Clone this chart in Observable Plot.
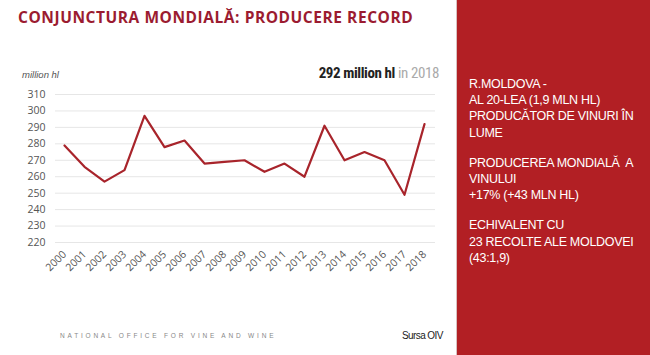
<!DOCTYPE html>
<html>
<head>
<meta charset="utf-8">
<script src="https://cdn.jsdelivr.net/npm/d3@7"></script>
<script src="https://cdn.jsdelivr.net/npm/@observablehq/plot@0.6"></script>
<style>
  html, body { margin: 0; padding: 0; background: #fff; }
  #page { position: relative; width: 650px; height: 355px; overflow: hidden; background: #fff; font-family: "Liberation Sans", Arial, sans-serif; }
  #title { position: absolute; left: 18px; top: 6px; font-family: "Open Sans", sans-serif; font-weight: 700; font-size: 15.5px; letter-spacing: 0.55px; color: #9b1b30; white-space: nowrap; }
  #chart { position: absolute; left: 0; top: 60px; }
  #unit { position: absolute; left: 22px; top: 69px; font-size: 9.5px; font-style: italic; color: #555; }
  #headline { position: absolute; right: 211px; top: 64px; font-family: "Liberation Sans Narrow", "Roboto Condensed", sans-serif; font-size: 15px; white-space: nowrap; color: #222; letter-spacing: -0.4px; }
  #headline b { font-weight: 700; }
  #headline span { color: #aaa; }
  #footer { position: absolute; left: 60px; top: 332px; font-size: 6.5px; letter-spacing: 2.8px; color: #888; white-space: nowrap; }
  #source { position: absolute; left: 402px; top: 330px; font-size: 10px; letter-spacing: -0.6px; color: #222; }
  #panel { position: absolute; left: 456px; top: 0; width: 194px; height: 355px; background: #b21f24; border-left: 1px solid #d8c0c0; }
  #panel .txt { position: absolute; left: 12px; top: 76px; color: #fff; font-size: 12.5px; line-height: 16.2px; letter-spacing: -0.3px; white-space: nowrap; }
  #panel p { margin: 0 0 14px 0; }
</style>
</head>
<body>
<div id="page">
  <div id="title">CONJUNCTURA MONDIALĂ: PRODUCERE RECORD</div>
  <div id="chart"></div>
  <div id="unit">million hl</div>
  <div id="headline"><b>292 million hl</b> <span>in 2018</span></div>
  <div id="footer">NATIONAL OFFICE FOR VINE AND WINE</div>
  <div id="source">Sursa OIV</div>
  <div id="panel"><div class="txt">
    <p>R.MOLDOVA -<br>AL 20-LEA (1,9 MLN HL)<br>PRODUCĂTOR DE VINURI ÎN<br>LUME</p>
    <p>PRODUCEREA MONDIALĂ&nbsp; A<br>VINULUI<br>+17% (+43 MLN HL)</p>
    <p>ECHIVALENT CU<br>23 RECOLTE ALE MOLDOVEI<br>(43:1,9)</p>
  </div></div>
</div>
<script>
const years = [2000, 2001, 2002, 2003, 2004, 2005, 2006, 2007, 2008, 2009, 2010, 2011, 2012, 2013, 2014, 2015, 2016, 2017, 2018];
const production = [279, 266, 257, 264, 297, 278, 282, 268, 269, 270, 263, 268, 260, 291, 270, 275, 270, 249, 292];
const yTicks = [220, 230, 240, 250, 260, 270, 280, 290, 300, 310];

const data = years.map((y, i) => ({year: y, value: production[i]}));

const chart = Plot.plot({
  width: 456,
  height: 230,
  marginLeft: 55,
  marginRight: 21,
  marginTop: 34,
  marginBottom: 48,
  style: {fontFamily: "'Open Sans', sans-serif", fontSize: "10.5px", color: "#555", background: "transparent"},
  x: {domain: [1999.55, 2018.55], ticks: years, tickFormat: d => String(d), tickRotate: -45, tickSize: 0, tickPadding: 10, label: null},
  y: {domain: [220, 310], ticks: yTicks, tickSize: 0, tickPadding: 10, label: null},
  marks: [
    Plot.ruleY(yTicks, {stroke: "#e6e6e6", strokeWidth: 1}),
    Plot.line(data, {x: "year", y: "value", stroke: "#a8242b", strokeWidth: 2.2})
  ]
});
document.getElementById("chart").appendChild(chart);
</script>
</body>
</html>
